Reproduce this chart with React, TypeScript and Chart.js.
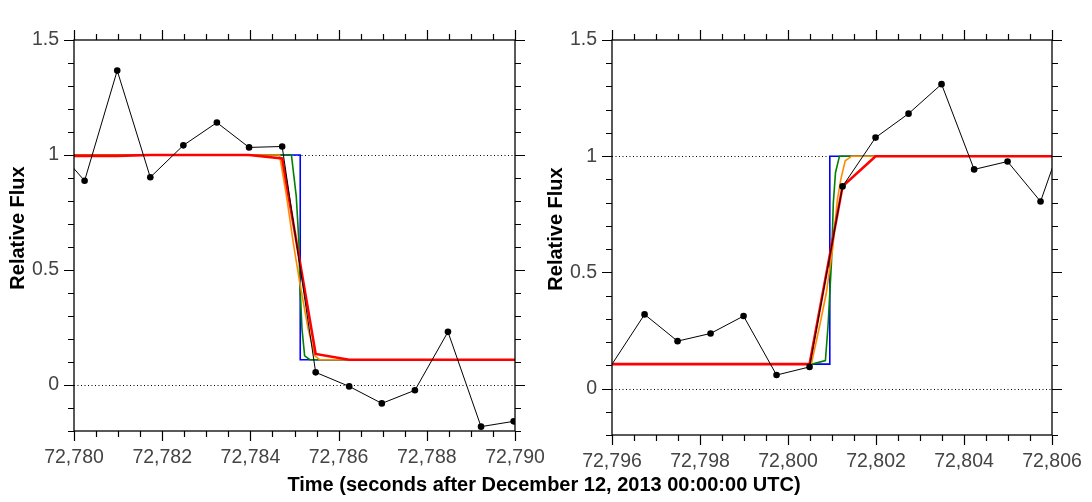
import { useEffect, useRef } from 'react';
import { Chart, registerables } from 'chart.js';

Chart.register(...registerables);

const FONT = "'Liberation Sans', Arial, sans-serif";

// x ticks (labels every 2 s) and y tick labels
const leftXTicks = [72780, 72782, 72784, 72786, 72788, 72790];
const rightXTicks = [72796, 72798, 72800, 72802, 72804, 72806];
const yTicks = [0, 0.5, 1, 1.5];
const refLevels = [0, 1];

// ---- left panel (ingress) ----
const leftObsTime = [72779.5, 72780.24, 72780.98, 72781.73, 72782.48, 72783.24, 72783.97, 72784.72, 72785.48, 72786.24, 72786.98, 72787.73, 72788.48, 72789.23, 72789.97];
const leftObsFlux = [1.05, 0.888, 1.367, 0.903, 1.042, 1.141, 1.033, 1.037, 0.055, -0.006, -0.08, -0.023, 0.231, -0.181, -0.158];

const leftBlueTime = [72779.5, 72785.13, 72785.13, 72790.5];
const leftBlueFlux = [1, 1, 0.11, 0.11];

const leftGreenTime = [72779.5, 72784.93, 72785.04, 72785.1, 72785.12, 72785.17, 72785.23, 72785.35, 72790.5];
const leftGreenFlux = [1, 1, 0.82, 0.62, 0.445, 0.243, 0.127, 0.11, 0.11];

const leftOrangeTime = [72779.5, 72784.66, 72784.82, 72784.97, 72785.12, 72785.31, 72785.46, 72785.57, 72790.5];
const leftOrangeFlux = [1, 1, 0.82, 0.62, 0.445, 0.243, 0.127, 0.11, 0.11];

const leftRedTime = [72779.5, 72780.24, 72780.98, 72781.73, 72782.48, 72783.24, 72783.97, 72784.72, 72785.48, 72786.24, 72786.98, 72787.73, 72788.48, 72789.23, 72789.97, 72790.5];
const leftRedFlux = [0.996, 0.996, 0.996, 1.0, 1.0, 1.0, 1.0, 0.985, 0.135, 0.11, 0.11, 0.11, 0.11, 0.11, 0.11, 0.11];

// ---- right panel (egress) ----
const rightObsTime = [72795.96, 72796.74, 72797.49, 72798.24, 72798.99, 72799.74, 72800.49, 72801.24, 72801.99, 72802.74, 72803.49, 72804.23, 72804.99, 72805.74, 72806.49];
const rightObsFlux = [0.093, 0.319, 0.204, 0.237, 0.312, 0.058, 0.093, 0.87, 1.08, 1.183, 1.31, 0.943, 0.977, 0.805, 1.21];

const rightBlueTime = [72795.5, 72800.95, 72800.95, 72806.5];
const rightBlueFlux = [0.105, 0.105, 1, 1];

const rightGreenTime = [72795.5, 72800.55, 72800.85, 72800.91, 72800.99, 72801.03, 72801.08, 72801.17, 72806.5];
const rightGreenFlux = [0.105, 0.105, 0.12, 0.27, 0.55, 0.8, 0.93, 1, 1];

const rightOrangeTime = [72795.5, 72800.53, 72800.72, 72800.87, 72801.02, 72801.12, 72801.2, 72801.3, 72801.45, 72806.5];
const rightOrangeFlux = [0.105, 0.105, 0.27, 0.41, 0.61, 0.81, 0.9, 0.98, 1, 1];

const rightRedTime = [72795.96, 72796.74, 72797.49, 72798.24, 72798.99, 72799.74, 72800.49, 72801.24, 72801.99, 72802.74, 72803.49, 72804.23, 72804.99, 72805.74, 72806.49];
const rightRedFlux = [0.105, 0.105, 0.105, 0.105, 0.105, 0.105, 0.105, 0.87, 1, 1, 1, 1, 1, 1, 1];

const pts = (t: number[], f: number[]) => t.map((x, i) => ({ x, y: f[i] }));

interface PanelProps {
    left: number;
    width: number;
    height: number;
    padRight: number;
    yAxisWidth: number;
    xAxisHeight: number;
    xMin: number;
    xMax: number;
    xTicks: number[];
    titleX: number;
    titleY: number;
    series: { obs: [number[], number[]]; blue: [number[], number[]]; green: [number[], number[]]; orange: [number[], number[]]; red: [number[], number[]] };
}

function makeFramePlugin(titleX: number, titleY: number) {
    return {
        id: 'frame',
        beforeDatasetsDraw(chart: any) {
            const { ctx, chartArea: a, scales } = chart;
            const y = scales.y;
            ctx.save();
            ctx.strokeStyle = '#000';
            ctx.lineWidth = 1;
            ctx.setLineDash([1, 2.5]);
            for (const v of refLevels) {
                const py = Math.round(y.getPixelForValue(v)) + 0.5;
                ctx.beginPath();
                ctx.moveTo(a.left, py);
                ctx.lineTo(a.right, py);
                ctx.stroke();
            }
            ctx.restore();
        },
        afterDraw(chart: any) {
            const { ctx, chartArea: a, scales } = chart;
            const x = scales.x;
            const y = scales.y;
            ctx.save();
            ctx.strokeStyle = '#000';
            ctx.lineWidth = 1.3;
            ctx.strokeRect(a.left, a.top, a.right - a.left, a.bottom - a.top);
            ctx.lineWidth = 1.2;
            ctx.beginPath();
            // x ticks: minor each 0.5 s, major each 2 s
            for (let i = 0; i <= Math.round((x.max - x.min) / 0.5); i++) {
                const v = x.min + i * 0.5;
                const len = i % 4 === 0 ? 10 : 6;
                const px = Math.round(x.getPixelForValue(v)) + 0.5;
                ctx.moveTo(px, a.bottom);
                ctx.lineTo(px, a.bottom + len);
                ctx.moveTo(px, a.top);
                ctx.lineTo(px, a.top - len);
            }
            // y ticks: minor each 0.1, major each 0.5
            for (let i = 0; i <= Math.round((y.max - y.min) / 0.1); i++) {
                const v = y.min + i * 0.1;
                const major = Math.abs(v / 0.5 - Math.round(v / 0.5)) < 1e-6;
                const len = major ? 10 : 6;
                const py = Math.round(y.getPixelForValue(v)) + 0.5;
                ctx.moveTo(a.left, py);
                ctx.lineTo(a.left - len, py);
                ctx.moveTo(a.right, py);
                ctx.lineTo(a.right + len, py);
            }
            ctx.stroke();
            // y title
            ctx.translate(titleX, titleY);
            ctx.rotate(-Math.PI / 2);
            ctx.fillStyle = '#000';
            ctx.font = `bold 20px ${FONT}`;
            ctx.textAlign = 'center';
            ctx.textBaseline = 'middle';
            ctx.fillText('Relative Flux', 0, 0);
            ctx.restore();
        },
    };
}

function Panel(props: PanelProps) {
    const chartRef = useRef<HTMLCanvasElement>(null);

    useEffect(() => {
        if (!chartRef.current) return;
        const { series, xMin, xMax } = props;
        const inRange = (c: any) => {
            const v = c.raw?.x;
            return v >= xMin && v <= xMax ? 3.3 : 0;
        };
        const line = (data: [number[], number[]], color: string, width: number, order: number) => ({
            data: pts(data[0], data[1]),
            borderColor: color,
            backgroundColor: color,
            borderWidth: width,
            pointRadius: 0,
            tension: 0,
            clip: 0,
            order,
        });

        const chart = new Chart(chartRef.current, {
            type: 'line',
            data: {
                datasets: [
                    {
                        data: pts(series.obs[0], series.obs[1]),
                        borderColor: '#000',
                        backgroundColor: '#000',
                        borderWidth: 1,
                        pointRadius: inRange,
                        pointBorderWidth: 0,
                        tension: 0,
                        clip: 0,
                        order: 0,
                    },
                    line(series.red, '#ff0000', 2.6, 1),
                    line(series.orange, '#ff8c00', 1.6, 2),
                    line(series.green, '#008000', 1.6, 3),
                    line(series.blue, '#0000ff', 1.6, 4),
                ] as any,
            },
            options: {
                animation: false,
                responsive: true,
                maintainAspectRatio: false,
                layout: { padding: { top: 40, right: props.padRight, left: 0, bottom: 0 } },
                plugins: { legend: { display: false }, tooltip: { enabled: false } },
                scales: {
                    x: {
                        type: 'linear',
                        min: xMin,
                        max: xMax,
                        // tick marks are drawn by the frame plugin; tickLength only offsets the labels
                        grid: { display: false, drawTicks: true, tickLength: 15 },
                        border: { display: false },
                        afterBuildTicks: (s: any) => {
                            s.ticks = props.xTicks.map(value => ({ value }));
                        },
                        afterFit: (s: any) => {
                            s.height = props.xAxisHeight;
                        },
                        ticks: {
                            color: '#444',
                            padding: 0,
                            maxRotation: 0,
                            autoSkip: false,
                            font: { family: FONT, size: 19.5 },
                            callback: (v: any) => Number(v).toLocaleString('en-US'),
                        },
                    },
                    y: {
                        type: 'linear',
                        min: -0.2,
                        max: 1.5,
                        grid: { display: false, drawTicks: true, tickLength: 15 },
                        border: { display: false },
                        afterBuildTicks: (s: any) => {
                            s.ticks = yTicks.map(value => ({ value }));
                        },
                        afterFit: (s: any) => {
                            s.width = props.yAxisWidth;
                        },
                        ticks: {
                            color: '#444',
                            padding: 0,
                            font: { family: FONT, size: 19.5 },
                            callback: (v: any) => String(v),
                        },
                    },
                },
            },
            plugins: [makeFramePlugin(props.titleX, props.titleY)],
        });

        return () => {
            chart.destroy();
        };
    }, []);

    return (
        <div style={{ position: 'absolute', left: props.left, top: 0, width: props.width, height: props.height }}>
            <canvas ref={chartRef}></canvas>
        </div>
    );
}

export default function App() {
    return (
        <div style={{ position: 'absolute', left: 0, top: 0, width: 1092, height: 502, background: '#fff', overflow: 'hidden' }}>
            <Panel
                left={0}
                width={546}
                height={502}
                padRight={31}
                yAxisWidth={74}
                xAxisHeight={71}
                xMin={72780}
                xMax={72790}
                xTicks={leftXTicks}
                titleX={18}
                titleY={228}
                series={{
                    obs: [leftObsTime, leftObsFlux],
                    blue: [leftBlueTime, leftBlueFlux],
                    green: [leftGreenTime, leftGreenFlux],
                    orange: [leftOrangeTime, leftOrangeFlux],
                    red: [leftRedTime, leftRedFlux],
                }}
            />
            <Panel
                left={546}
                width={546}
                height={502}
                padRight={40}
                yAxisWidth={66}
                xAxisHeight={67}
                xMin={72796}
                xMax={72806}
                xTicks={rightXTicks}
                titleX={10}
                titleY={229}
                series={{
                    obs: [rightObsTime, rightObsFlux],
                    blue: [rightBlueTime, rightBlueFlux],
                    green: [rightGreenTime, rightGreenFlux],
                    orange: [rightOrangeTime, rightOrangeFlux],
                    red: [rightRedTime, rightRedFlux],
                }}
            />
            <div
                style={{
                    position: 'absolute',
                    left: 0,
                    width: 1088,
                    top: 472,
                    textAlign: 'center',
                    fontFamily: FONT,
                    fontWeight: 'bold',
                    fontSize: 20,
                    lineHeight: '24px',
                    color: '#000',
                }}
            >
                Time (seconds after December 12, 2013 00:00:00 UTC)
            </div>
        </div>
    );
}
